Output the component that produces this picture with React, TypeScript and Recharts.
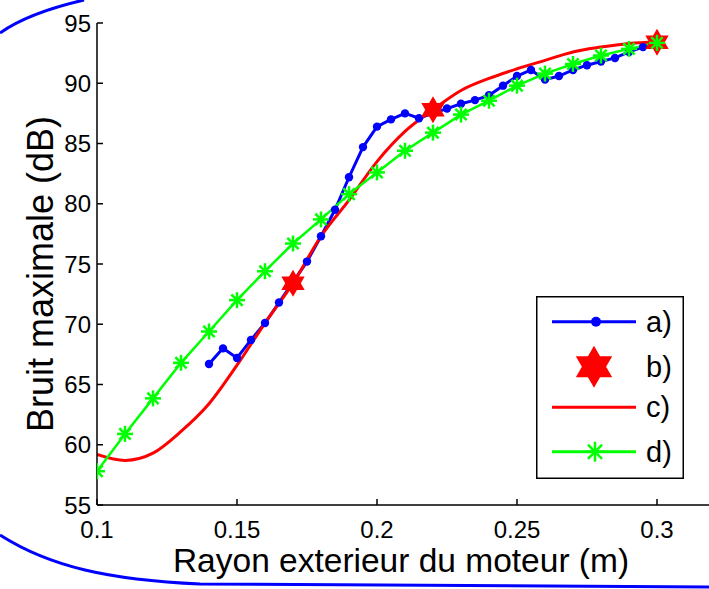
import { ComposedChart, Line, XAxis, YAxis, Legend, Label } from 'recharts';

// a) measured points
const xA = [0.14, 0.145, 0.15, 0.155, 0.16, 0.165, 0.17, 0.175, 0.18, 0.185, 0.19, 0.195, 0.2, 0.205, 0.21, 0.215, 0.22, 0.225, 0.23, 0.235, 0.24, 0.245, 0.25, 0.255, 0.26, 0.265, 0.27, 0.275, 0.28, 0.285, 0.29, 0.295, 0.3];
const yA = [66.7, 68.0, 67.2, 68.7, 70.1, 71.8, 73.5, 75.2, 77.3, 79.5, 82.2, 84.7, 86.4, 87.0, 87.5, 87.1, 87.5, 87.9, 88.3, 88.6, 89.0, 89.8, 90.6, 91.1, 90.3, 90.6, 91.1, 91.5, 91.8, 92.1, 92.6, 93.0, 93.3];

// b) stars
const xB = [0.17, 0.22, 0.3];
const yB = [73.4, 87.8, 93.4];

// c) and d) share the same radius steps
const xCD = [0.1, 0.11, 0.12, 0.13, 0.14, 0.15, 0.16, 0.17, 0.18, 0.19, 0.2, 0.21, 0.22, 0.23, 0.24, 0.25, 0.26, 0.27, 0.28, 0.29, 0.3];
const yC = [59.2, 58.7, 59.3, 61.1, 63.4, 66.6, 70.1, 73.4, 77.3, 80.3, 83.5, 86.0, 87.8, 89.4, 90.4, 91.2, 91.9, 92.6, 93.0, 93.3, 93.45];
const yD = [57.8, 60.9, 63.85, 66.8, 69.4, 72.0, 74.4, 76.7, 78.7, 80.8, 82.6, 84.4, 85.9, 87.4, 88.55, 89.8, 90.8, 91.6, 92.3, 92.85, 93.35];

const xTicks = [0.1, 0.15, 0.2, 0.25, 0.3];
const yTicks = [55, 60, 65, 70, 75, 80, 85, 90, 95];
const legendNames = ['a)', 'b)', 'c)', 'd)'];

const zip = (xs: number[], ys: number[]) => xs.map((x, i) => ({ x, y: ys[i] }));

const FONT = '"Liberation Sans", Arial, sans-serif';
const BLUE = '#0000ff';
const RED = '#ff0000';
const GREEN = '#00ff00';

const hexPoints = (cx: number, cy: number, r: number, flip: number) => {
  const s = r * Math.sin(Math.PI / 3);
  return `${cx},${cy - flip * r} ${cx + s},${cy + flip * r / 2} ${cx - s},${cy + flip * r / 2}`;
};

const Hexagram = ({ cx, cy, r = 13.5 }: any) => (
  <g fill={RED} stroke="none">
    <polygon points={hexPoints(cx, cy, r, 1)} />
    <polygon points={hexPoints(cx, cy, r, -1)} />
  </g>
);

const Asterisk = ({ cx, cy, r = 8 }: any) => {
  const d = r * 0.7071;
  return (
    <g stroke={GREEN} strokeWidth={2.5}>
      <line x1={cx - r} y1={cy} x2={cx + r} y2={cy} />
      <line x1={cx} y1={cy - r} x2={cx} y2={cy + r} />
      <line x1={cx - d} y1={cy - d} x2={cx + d} y2={cy + d} />
      <line x1={cx - d} y1={cy + d} x2={cx + d} y2={cy - d} />
    </g>
  );
};

const renderLegend = () => {
  const rows = [25.7, 70.7, 111.3, 155.7];
  return (
    <svg width={148} height={183} style={{ display: 'block' }}>
      <rect x={0.75} y={0.75} width={146.5} height={181.5} fill="#fff" stroke="#000" strokeWidth={1.5} />
      {legendNames.map((name, i) => {
        const y = rows[i];
        return (
          <g key={name}>
            {i === 0 && <line x1={16} y1={y} x2={100} y2={y} stroke={BLUE} strokeWidth={3} />}
            {i === 0 && <circle cx={60} cy={y} r={5} fill={BLUE} />}
            {i === 1 && <Hexagram cx={58} cy={y} r={21} />}
            {i === 2 && <line x1={16} y1={y} x2={100} y2={y} stroke={RED} strokeWidth={3} />}
            {i === 3 && <line x1={16} y1={y} x2={100} y2={y} stroke={GREEN} strokeWidth={3} />}
            {i === 3 && <Asterisk cx={59} cy={y} r={10} />}
            <text x={110} y={y} dominantBaseline="central" fontSize={29} fontFamily={FONT} fill="#000">
              {name}
            </text>
          </g>
        );
      })}
    </svg>
  );
};

const tickStyle = { fill: '#000', fontSize: 24, fontFamily: FONT };

export default function App() {
  return (
    <div style={{ position: 'fixed', left: 0, top: 0, width: 709, height: 589, overflow: 'hidden', background: '#fff' }}>
      <ComposedChart width={720} height={589} margin={{ top: 23, right: 7, bottom: 0, left: 0 }}>
        <XAxis
          xAxisId={0}
          type="number"
          dataKey="x"
          domain={[0.1, 0.32]}
          ticks={xTicks}
          allowDataOverflow
          height={84}
          stroke="#000"
          strokeWidth={1.5}
          tickSize={-6}
          tickMargin={22}
          tick={tickStyle}
        >
          <Label
            content={() => (
              <text x={401} y={572} textAnchor="middle" fontSize={33.5} fontFamily={FONT} fill="#000">
                Rayon exterieur du moteur (m)
              </text>
            )}
          />
        </XAxis>
        <XAxis
          xAxisId="top"
          orientation="top"
          type="number"
          dataKey="x"
          domain={[0.1, 0.32]}
          ticks={xTicks}
          allowDataOverflow
          height={0}
          stroke="#000"
          strokeWidth={1.5}
          tickSize={-6}
          tick={false}
        />
        <YAxis
          yAxisId={0}
          type="number"
          domain={[55, 95]}
          ticks={yTicks}
          allowDataOverflow
          width={97}
          stroke="#000"
          strokeWidth={1.5}
          tickSize={-6}
          tickMargin={12}
          tick={tickStyle}
        >
          <Label
            content={() => (
              <text x={53} y={274} transform="rotate(-90 53 274)" textAnchor="middle" fontSize={36} fontFamily={FONT} fill="#000">
                Bruit maximale (dB)
              </text>
            )}
          />
        </YAxis>
        <YAxis
          yAxisId="right"
          orientation="right"
          type="number"
          domain={[55, 95]}
          ticks={yTicks}
          allowDataOverflow
          width={0}
          stroke="#000"
          strokeWidth={1.5}
          tickSize={-6}
          tick={false}
        />
        <Legend layout="vertical" align="center" verticalAlign="middle" content={renderLegend} wrapperStyle={{ left: 536, top: 296, width: 148, height: 183 }} />
        <Line
          data={zip(xA, yA)}
          dataKey="y"
          type="linear"
          stroke={BLUE}
          strokeWidth={3}
          isAnimationActive={false}
          activeDot={false}
          dot={(p: any) => <circle key={`a-${p.index}`} cx={p.cx} cy={p.cy} r={4.2} fill={BLUE} />}
        />
        <Line
          data={zip(xB, yB)}
          dataKey="y"
          stroke="none"
          isAnimationActive={false}
          activeDot={false}
          dot={(p: any) => <Hexagram key={`b-${p.index}`} cx={p.cx} cy={p.cy} />}
        />
        <Line
          data={zip(xCD, yC)}
          dataKey="y"
          type="monotone"
          stroke={RED}
          strokeWidth={3}
          dot={false}
          activeDot={false}
          isAnimationActive={false}
        />
        <Line
          data={zip(xCD, yD)}
          dataKey="y"
          type="linear"
          stroke={GREEN}
          strokeWidth={2.5}
          isAnimationActive={false}
          activeDot={false}
          dot={(p: any) => <Asterisk key={`d-${p.index}`} cx={p.cx} cy={p.cy} />}
        />
      </ComposedChart>
      <svg width={709} height={589} style={{ position: 'absolute', left: 0, top: 0, pointerEvents: 'none' }}>
        <path d="M0 33 Q28 13 84 0" fill="none" stroke={BLUE} strokeWidth={3} />
        <path d="M0 535 C50 567 110 580 200 584 L709 587" fill="none" stroke={BLUE} strokeWidth={3} />
      </svg>
    </div>
  );
}
